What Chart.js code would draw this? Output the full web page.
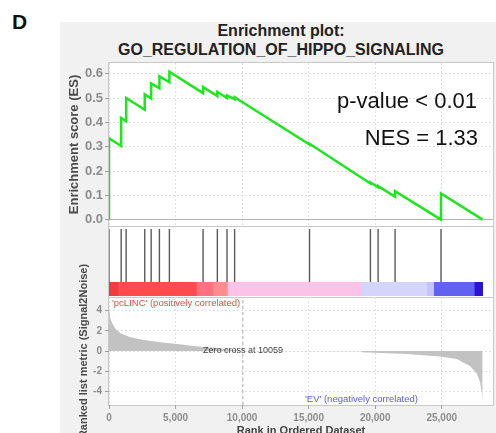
<!DOCTYPE html>
<html lang="en">
<head>
    <meta charset="UTF-8">
    <title>GSEA Enrichment plot - GO_REGULATION_OF_HIPPO_SIGNALING</title>
    <script src="https://cdn.jsdelivr.net/npm/chart.js"></script>
    <style>
        body {
            margin: 0;
            width: 496px;
            height: 433px;
            overflow: hidden;
            background: #fff;
            font-family: "Liberation Sans", Arial, sans-serif;
            position: relative;
        }

        .abs {
            position: absolute;
        }

        .backdrop {
            left: 60px;
            top: 22px;
            width: 436px;
            height: 411px;
            background: #f1f1f1;
        }

        .panel {
            background: #fff;
            border: 1px solid #c8c8c8;
            box-sizing: border-box;
        }

        .txt {
            white-space: nowrap;
        }
    </style>
</head>
<body>
    <div class="abs backdrop"></div>

    <!-- panel frames -->
    <div class="abs panel" style="left:108px; top:62px; width:386px; height:165px;"></div>
    <div class="abs panel" style="left:108px; top:226px; width:386px; height:72px;"></div>
    <div class="abs panel" style="left:108px; top:297px; width:386px; height:109px;"></div>

    <canvas id="esChart" class="abs" width="433" height="163" style="left:60px; top:63px;"></canvas>
    <canvas id="hitChart" class="abs" width="384" height="53" style="left:109px; top:229px;"></canvas>
    <canvas id="barChart" class="abs" width="384" height="14" style="left:109px; top:282px;"></canvas>
    <canvas id="metricChart" class="abs" width="433" height="216" style="left:60px; top:226px;"></canvas>

    <!-- labels -->
    <div class="abs txt" style="left:12px; top:10px; font-size:21px; font-weight:bold; color:#111;">D</div>
    <div class="abs txt" style="left:81px; top:22px; width:400px; text-align:center; font-size:16px; line-height:18.5px; font-weight:bold; color:#222;">
        Enrichment plot:<br>GO_REGULATION_OF_HIPPO_SIGNALING
    </div>
    <div class="abs txt" style="right:19px; top:90px; font-size:22px; line-height:22px; color:#111;">p-value &lt; 0.01</div>
    <div class="abs txt" style="right:18px; top:127px; font-size:22px; line-height:22px; color:#111;">NES = 1.33</div>
    <div class="abs txt" style="left:112px; top:297px; font-size:9.5px; line-height:11px; color:#f04848;">'pcLINC' (positively correlated)</div>
    <div class="abs txt" style="left:203px; top:345px; font-size:9px; line-height:11px; color:#444;">Zero cross at 10059</div>
    <div class="abs txt" style="left:305px; top:393px; font-size:9.5px; line-height:11px; color:#5a5af5;">'EV' (negatively correlated)</div>

    <script>
        // running enrichment score (rank, ES)
        const esRank = [0, 0, 915, 915, 1290, 1290, 2686, 2686, 3166, 3166, 3788, 3788, 4538, 4538,
            7067, 7067, 8140, 8140, 8867, 8867, 9437, 9437, 15064, 15064, 19640, 19640, 20218, 20218,
            21493, 21493, 24944, 24944, 28072];
        const esScore = [0.000, 0.335, 0.303, 0.418, 0.405, 0.500, 0.452, 0.515, 0.498, 0.560, 0.540, 0.590, 0.565, 0.608,
            0.520, 0.545, 0.508, 0.525, 0.500, 0.510, 0.495, 0.503, 0.309, 0.312, 0.149, 0.153, 0.133, 0.138,
            0.094, 0.117, 0.000, 0.108, 0.000];

        // positions of gene set members in the ranked list
        const hitRanks = [0, 915, 1290, 2686, 3166, 3788, 4538, 7067, 8140, 8867, 9437, 9437,
            15064, 19640, 20218, 21493, 24944, 24944];

        // heat bar segments
        const barStart = [0, 735, 6617, 7862, 8942, 18995, 23916, 24441, 27494];
        const barEnd = [735, 6617, 7862, 8942, 18995, 23916, 24441, 27494, 28072];
        const barColors = ['#f03c3c', '#ff4b4b', '#ff7080', '#ff8c8e', '#fcc2e8', '#d4d4fc', '#c4c4f8', '#6262f0', '#2a12d6'];

        // ranked list metric (Signal2Noise)
        const metricRank = [0, 100, 240, 488, 863, 1613, 2611, 3863, 5116, 6864, 8500, 10059,
            18990, 19000, 22370, 24869, 26130, 27130, 27630, 27880, 27990, 28072];
        const metricValue = [4.3, 3.2, 2.77, 2.17, 1.77, 1.37, 1.1, 0.87, 0.7, 0.43, 0.25, 0,
            -0.03, -0.12, -0.3, -0.55, -0.8, -1.5, -2.2, -3.1, -4.0, -4.9];
        const zeroCross = 10059;

        const rankTicks = [0, 5000, 10000, 15000, 20000, 25000];
        const esTicks = [0, 0.1, 0.2, 0.3, 0.4, 0.5, 0.6];
        const metricTicks = [-4, -2, 0, 2, 4];

        const rankMax = 28850;
        const esMin = -0.026, esMax = 0.644;
        const metricMin = -5.35, metricMax = 5.35;

        Chart.defaults.font.family = '"Liberation Sans", Arial, sans-serif';
        Chart.defaults.animation = false;
        Chart.defaults.responsive = false;
        Chart.defaults.plugins.legend.display = false;
        Chart.defaults.plugins.tooltip.enabled = false;

        const gridGray = '#e0e0e0';
        const tickGray = '#8c8c8c';

        function fixY(s) {
            s.width = 49;
            s.paddingTop = 0;
            s.paddingBottom = 0;
        }

        // Enrichment score panel
        new Chart(document.getElementById('esChart'), {
            type: 'line',
            data: {
                datasets: [{
                    data: esRank.map((r, i) => ({ x: r, y: esScore[i] })),
                    borderColor: '#1ee61e',
                    borderWidth: 2.5,
                    pointRadius: 0,
                    tension: 0
                }]
            },
            options: {
                layout: { padding: 0 },
                scales: {
                    x: {
                        type: 'linear',
                        min: 0,
                        max: rankMax,
                        afterBuildTicks: s => { s.ticks = rankTicks.map(v => ({ value: v })); },
                        afterFit: s => { s.height = 0; s.paddingLeft = 0; s.paddingRight = 0; },
                        ticks: { display: false },
                        grid: { color: gridGray, drawTicks: false },
                        border: { display: false, dash: [2, 2] }
                    },
                    y: {
                        min: esMin,
                        max: esMax,
                        afterBuildTicks: s => { s.ticks = esTicks.map(v => ({ value: v })); },
                        afterFit: fixY,
                        ticks: {
                            callback: v => v.toFixed(1),
                            color: tickGray,
                            font: { size: 13, weight: 'bold' },
                            padding: 2
                        },
                        grid: {
                            color: c => (c.tick && c.tick.value === 0) ? '#b4b4b4' : gridGray,
                            tickLength: 4,
                            tickColor: '#a0a0a0'
                        },
                        border: {
                            display: false,
                            dash: c => (c.tick && c.tick.value === 0) ? [] : [2, 2]
                        },
                        title: {
                            display: true,
                            text: 'Enrichment score (ES)',
                            color: '#4a4a4a',
                            font: { size: 13, weight: 'bold' },
                            padding: { top: 7, bottom: 0 }
                        }
                    }
                }
            }
        });

        // hit markers
        new Chart(document.getElementById('hitChart'), {
            type: 'line',
            data: {
                datasets: [{
                    data: hitRanks.flatMap(r => [{ x: r, y: 0 }, { x: r, y: 1 }, { x: r, y: null }]),
                    borderColor: 'rgba(20, 20, 20, 0.7)',
                    borderWidth: 1.4,
                    pointRadius: 0,
                    spanGaps: false
                }]
            },
            options: {
                layout: { padding: 0 },
                scales: {
                    x: { type: 'linear', min: 0, max: rankMax, display: false },
                    y: { min: 0, max: 1, display: false }
                }
            }
        });

        // red-blue heat bar
        new Chart(document.getElementById('barChart'), {
            type: 'bar',
            data: {
                labels: ['bar'],
                datasets: [{
                    data: barStart.map((s, i) => ({ x: [s, barEnd[i]], y: 'bar' })),
                    backgroundColor: barColors,
                    borderWidth: 0,
                    barPercentage: 1,
                    categoryPercentage: 1
                }]
            },
            options: {
                indexAxis: 'y',
                layout: { padding: 0 },
                scales: {
                    x: { type: 'linear', min: 0, max: rankMax, display: false },
                    y: { display: false }
                }
            }
        });

        // ranked list metric panel
        new Chart(document.getElementById('metricChart'), {
            type: 'line',
            data: {
                datasets: [{
                    data: metricRank.map((r, i) => ({ x: r, y: metricValue[i] })),
                    borderWidth: 0,
                    backgroundColor: '#c2c2c2',
                    fill: 'origin',
                    pointRadius: 0,
                    tension: 0
                }, {
                    data: [{ x: zeroCross, y: metricMin }, { x: zeroCross, y: metricMax }],
                    borderColor: '#b0b0b0',
                    borderWidth: 1,
                    borderDash: [3, 3],
                    pointRadius: 0
                }]
            },
            options: {
                layout: { padding: { top: 71, left: 0, right: 0, bottom: 0 } },
                scales: {
                    x: {
                        type: 'linear',
                        min: 0,
                        max: rankMax,
                        afterBuildTicks: s => { s.ticks = rankTicks.map(v => ({ value: v })); },
                        afterFit: s => { s.height = 37; s.paddingLeft = 0; s.paddingRight = 0; },
                        ticks: {
                            callback: v => v.toLocaleString('en-US'),
                            color: tickGray,
                            font: { size: 10, weight: 'bold' },
                            padding: 3,
                            maxRotation: 0
                        },
                        grid: { color: gridGray, tickLength: 4, tickColor: '#a0a0a0' },
                        border: { display: false, dash: [2, 2] },
                        title: {
                            display: true,
                            text: 'Rank in Ordered Dataset',
                            color: '#444',
                            font: { size: 11, weight: 'bold' },
                            padding: { top: 4, bottom: 4 }
                        }
                    },
                    y: {
                        min: metricMin,
                        max: metricMax,
                        afterBuildTicks: s => { s.ticks = metricTicks.map(v => ({ value: v })); },
                        afterFit: fixY,
                        ticks: {
                            color: tickGray,
                            font: { size: 10, weight: 'bold' },
                            padding: 3
                        },
                        grid: { color: gridGray, tickLength: 4, tickColor: '#a0a0a0' },
                        border: { display: false, dash: [2, 2] },
                        title: {
                            display: true,
                            text: 'Ranked list metric (Signal2Noise)',
                            color: '#4a4a4a',
                            font: { size: 11, weight: 'bold' },
                            padding: { top: 17, bottom: 0 }
                        }
                    }
                }
            }
        });
    </script>
</body>
</html>
